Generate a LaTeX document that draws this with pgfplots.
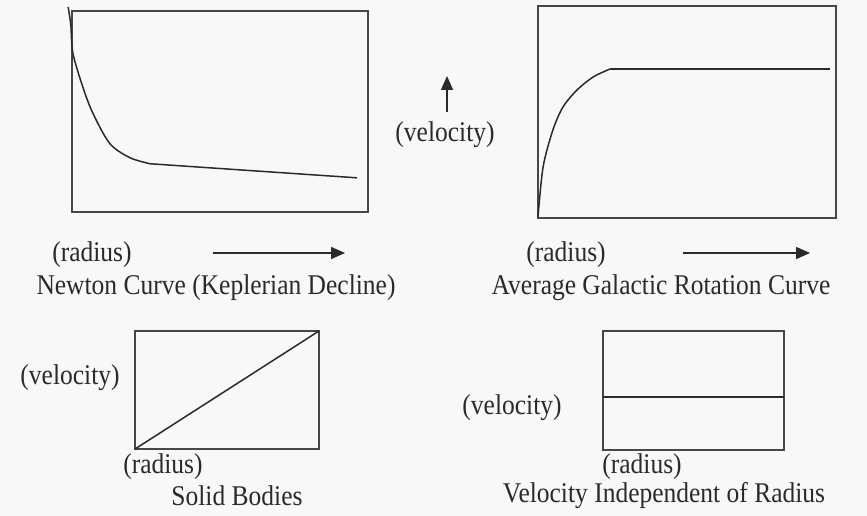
\documentclass[border=0pt]{standalone}
\usepackage{pgfplots}
\pgfplotsset{compat=1.18}
\usepackage{fontspec}
\setmainfont{Liberation Serif}
\usetikzlibrary{arrows.meta}
\definecolor{bg}{HTML}{F8F8F8}
\definecolor{frame}{HTML}{474747}
\definecolor{ink}{HTML}{2A2A2A}
\pgfplotsset{
  panel/.style={scale only axis, anchor=north west, xmin=0, xmax=1, ymin=0, ymax=1,
    ticks=none, axis line style={draw=frame, line width=1.5pt}, clip=false},
  crv/.style={color=ink, line width=1.5pt, no marks}
}
\newcommand{\lab}{\fontsize{25.5}{28}\selectfont}
\begin{document}
\begin{tikzpicture}
\fill[bg] (0pt,0pt) rectangle (867pt,-516pt);
\useasboundingbox (0pt,0pt) rectangle (867pt,-516pt);
% Panel 1: Newton
\begin{axis}[panel, at={(72pt,-11pt)}, width=296pt, height=201pt]
\addplot[crv, smooth] coordinates {(-0.013,1.02) (-0.004,0.93) (0.003,0.79) (0.037,0.62) (0.071,0.49) (0.128,0.34) (0.196,0.27) (0.264,0.24)};
\addplot[crv] coordinates {(0.264,0.24) (0.963,0.17)};
\end{axis}
% Panel 2: Galactic
\begin{axis}[panel, at={(538pt,-6pt)}, width=298pt, height=212pt]
\addplot[crv, smooth] coordinates {(0,0.005) (0.017,0.24) (0.05,0.415) (0.084,0.524) (0.131,0.604) (0.185,0.665) (0.242,0.703)};
\addplot[crv] coordinates {(0.242,0.703) (0.98,0.703)};
\end{axis}
% Panel 3: Solid bodies
\begin{axis}[panel, at={(135pt,-331pt)}, width=184pt, height=118pt]
\addplot[crv] coordinates {(0,0) (1,1)};
\end{axis}
% Panel 4: Flat
\begin{axis}[panel, at={(603pt,-331pt)}, width=181pt, height=119pt]
\addplot[crv, line width=2pt] coordinates {(0,0.445) (1,0.445)};
\end{axis}
% Arrows
\draw[ink, line width=1.4pt, -{Triangle[length=14pt,width=12pt]}] (447pt,-112pt) -- (447pt,-76pt);
\draw[ink, line width=1.4pt, -{Triangle[length=14pt,width=12pt]}] (213pt,-253pt) -- (345pt,-253pt);
\draw[ink, line width=1.4pt, -{Triangle[length=14pt,width=12pt]}] (683pt,-253pt) -- (810pt,-253pt);
% Labels
\begin{scope}[every node/.style={text=ink, inner sep=0pt, font=\lab, yscale=1.12}]
\node at (445pt,-135pt) {(velocity)};
\node at (92pt,-255pt) {(radius)};
\node at (216pt,-288pt) {Newton Curve (Keplerian Decline)};
\node at (566pt,-255pt) {(radius)};
\node at (661pt,-288pt) {Average Galactic Rotation Curve};
\node at (70pt,-378pt) {(velocity)};
\node at (163pt,-467pt) {(radius)};
\node at (237pt,-496pt) {Solid Bodies};
\node at (512pt,-408pt) {(velocity)};
\node at (642pt,-467pt) {(radius)};
\node at (664pt,-496pt) {Velocity Independent of Radius};
\end{scope}
\end{tikzpicture}
\end{document}
